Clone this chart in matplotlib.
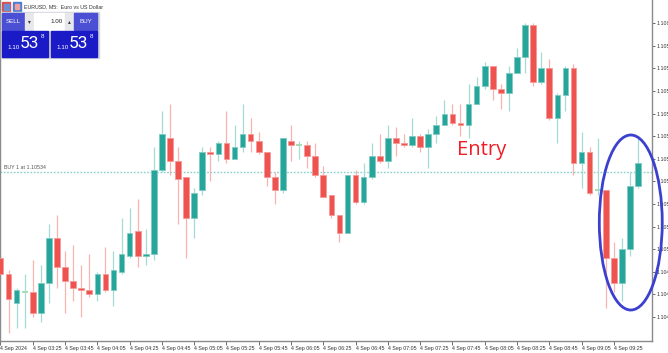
import matplotlib
matplotlib.use("Agg")
import matplotlib.pyplot as plt
from matplotlib.patches import Ellipse, Rectangle
import numpy as np

# EURUSD M5 candles
opens = [1.10496, 1.10489, 1.10476, 1.10481, 1.10481, 1.10472, 1.10485, 1.10505, 1.10492, 1.10486,
         1.10483, 1.10482, 1.10480, 1.10489, 1.10482, 1.10490, 1.10497, 1.10508, 1.10497, 1.10498,
         1.10535, 1.10549, 1.10539, 1.10532, 1.10514, 1.10526, 1.10543, 1.10542, 1.10547, 1.10540,
         1.10545, 1.10551, 1.10548, 1.10543, 1.10532, 1.10526, 1.10548, 1.10546, 1.10546, 1.10541,
         1.10533, 1.10524, 1.10515, 1.10507, 1.10533, 1.10521, 1.10532, 1.10541, 1.10539, 1.10549,
         1.10547, 1.10546, 1.10550, 1.10545, 1.10551, 1.10555, 1.10560, 1.10556, 1.10555, 1.10564,
         1.10572, 1.10581, 1.10571, 1.10569, 1.10578, 1.10585, 1.10599, 1.10574, 1.10580, 1.10558,
         1.10568, 1.10580, 1.10538, 1.10543, 1.10526, 1.10526, 1.10496, 1.10485, 1.10500, 1.10528]
highs = [1.10497, 1.10491, 1.10483, 1.10489, 1.10495, 1.10493, 1.10511, 1.10515, 1.10499, 1.10502,
         1.10493, 1.10498, 1.10490, 1.10501, 1.10499, 1.10514, 1.10518, 1.10522, 1.10509, 1.10545,
         1.10561, 1.10564, 1.10545, 1.10532, 1.10527, 1.10545, 1.10545, 1.10548, 1.10561, 1.10555,
         1.10564, 1.10558, 1.10552, 1.10543, 1.10534, 1.10549, 1.10555, 1.10548, 1.10548, 1.10547,
         1.10537, 1.10524, 1.10515, 1.10533, 1.10535, 1.10538, 1.10547, 1.10551, 1.10555, 1.10554,
         1.10551, 1.10558, 1.10551, 1.10553, 1.10559, 1.10566, 1.10564, 1.10564, 1.10573, 1.10576,
         1.10583, 1.10581, 1.10573, 1.10581, 1.10589, 1.10600, 1.10600, 1.10587, 1.10584, 1.10569,
         1.10581, 1.10582, 1.10552, 1.10545, 1.10549, 1.10526, 1.10503, 1.10505, 1.10534, 1.10549]
lows = [1.10487, 1.10463, 1.10465, 1.10465, 1.10470, 1.10468, 1.10476, 1.10483, 1.10472, 1.10477,
        1.10470, 1.10479, 1.10477, 1.10481, 1.10475, 1.10489, 1.10496, 1.10492, 1.10493, 1.10495,
        1.10534, 1.10533, 1.10511, 1.10496, 1.10505, 1.10524, 1.10530, 1.10539, 1.10538, 1.10540,
        1.10543, 1.10543, 1.10542, 1.10528, 1.10520, 1.10525, 1.10539, 1.10540, 1.10536, 1.10532,
        1.10523, 1.10514, 1.10503, 1.10507, 1.10520, 1.10520, 1.10531, 1.10538, 1.10536, 1.10541,
        1.10545, 1.10545, 1.10543, 1.10536, 1.10547, 1.10555, 1.10555, 1.10550, 1.10549, 1.10564,
        1.10571, 1.10566, 1.10562, 1.10561, 1.10578, 1.10578, 1.10572, 1.10573, 1.10557, 1.10547,
        1.10561, 1.10533, 1.10527, 1.10524, 1.10524, 1.10474, 1.10481, 1.10477, 1.10497, 1.10527]
closes = [1.10489, 1.10478, 1.10482, 1.10481, 1.10472, 1.10485, 1.10505, 1.10492, 1.10486, 1.10483,
          1.10482, 1.10480, 1.10489, 1.10482, 1.10491, 1.10498, 1.10507, 1.10497, 1.10498, 1.10535,
          1.10551, 1.10539, 1.10531, 1.10514, 1.10525, 1.10543, 1.10542, 1.10547, 1.10540, 1.10545,
          1.10551, 1.10548, 1.10543, 1.10532, 1.10526, 1.10549, 1.10546, 1.10546, 1.10541, 1.10533,
          1.10523, 1.10515, 1.10507, 1.10533, 1.10521, 1.10532, 1.10541, 1.10539, 1.10549, 1.10547,
          1.10546, 1.10550, 1.10545, 1.10551, 1.10555, 1.10560, 1.10556, 1.10555, 1.10564, 1.10572,
          1.10581, 1.10571, 1.10569, 1.10578, 1.10585, 1.10599, 1.10574, 1.10580, 1.10558, 1.10568,
          1.10580, 1.10538, 1.10543, 1.10525, 1.10526, 1.10496, 1.10485, 1.10500, 1.10528, 1.10538]

time_labels = ["4 Sep 2024", "4 Sep 03:25", "4 Sep 03:45", "4 Sep 04:05", "4 Sep 04:25",
               "4 Sep 04:45", "4 Sep 05:05", "4 Sep 05:25", "4 Sep 05:45", "4 Sep 06:05",
               "4 Sep 06:25", "4 Sep 06:45", "4 Sep 07:05", "4 Sep 07:25", "4 Sep 07:45",
               "4 Sep 08:05", "4 Sep 08:25", "4 Sep 08:45", "4 Sep 09:05", "4 Sep 09:25"]
price_ticks = [1.1047, 1.1048, 1.1049, 1.1050, 1.1051, 1.1052, 1.1053,
               1.1054, 1.1055, 1.1056, 1.1057, 1.1058, 1.1059, 1.1060]
entry_price = 1.10534

BULL = "#26a69a"
BEAR = "#ef5350"
BULL_WICK = "#a3dbd5"
BEAR_WICK = "#f8b3b1"
DOJI = "#a9dcb3"
small = "Liberation Sans"

o = np.array(opens)
h = np.array(highs)
l = np.array(lows)
c = np.array(closes)
x = np.arange(len(o))

W, H = 668, 353
fig = plt.figure(figsize=(W / 100, H / 100), dpi=100)
ax = fig.add_axes([0, 12 / H, 652 / W, 341 / H])

up = c > o
down = c < o
flat = c == o

# wicks
ax.vlines(x[up], l[up], h[up], color=BULL_WICK, lw=0.9, zorder=2)
ax.vlines(x[down], l[down], h[down], color=BEAR_WICK, lw=0.9, zorder=2)
ax.vlines(x[flat], l[flat], h[flat], color=BULL_WICK, lw=0.9, zorder=2)

# bodies
ax.bar(x[up], (c - o)[up], bottom=o[up], width=0.7, color=BULL,
       edgecolor="#7fcbc3", lw=0.6, zorder=3)
ax.bar(x[down], (o - c)[down], bottom=c[down], width=0.7, color=BEAR,
       edgecolor="#f59a98", lw=0.6, zorder=3)
ax.hlines(o[flat], x[flat] - 0.35, x[flat] + 0.35, color=DOJI, lw=1.4, zorder=3)

# open position line
ax.axhline(entry_price, color="#86d0c7", lw=1.0, ls=(0, (1.2, 1.2)), zorder=1)
ax.text(0.4, entry_price + 0.000012, "BUY 1 at %.5f" % entry_price, fontsize=3.8,
        color="#555555", family=small, va="bottom", ha="left")

ax.text(56.6, 1.10544, "Entry", fontsize=14.5, color="#ee1c25", family="Open Sans",
        va="center", ha="left")

ax.add_patch(Ellipse((78.1, 1.105118), 7.8, 0.000774, fill=False,
                     edgecolor="#3b40cf", lw=2.0, zorder=5, clip_on=False))

ax.set_xlim(-0.06, 80.73)
ax.set_ylim(1.104594, 1.106102)

# axes styling, MT5 look
ax.spines["top"].set_visible(False)
for side in ["left", "bottom", "right"]:
    ax.spines[side].set_color("#8a8a8a")
    ax.spines[side].set_linewidth(1.0)

ax.yaxis.tick_right()
ax.set_yticks(price_ticks)
ax.set_yticklabels(["%.5f" % p for p in price_ticks])
ax.tick_params(axis="y", direction="out", length=2.5, width=0.6, color="#555555",
               labelsize=3.8, labelcolor="#333333", pad=1)
for t in ax.get_yticklabels():
    t.set_family(small)

ax.set_xticks(np.arange(0, len(time_labels) * 4, 4))
ax.set_xticklabels(time_labels)
ax.tick_params(axis="x", direction="out", length=3, width=0.6, color="#555555",
               labelsize=3.8, labelcolor="#333333", pad=0.8)
for t in ax.get_xticklabels():
    t.set_family(small)
    t.set_ha("left")

# trading panel in the top left corner
ov = fig.add_axes([0, 0, 1, 1], zorder=10)
ov.set_xlim(0, W)
ov.set_ylim(H, 0)
ov.axis("off")
ov.patch.set_alpha(0)

ov.add_patch(Rectangle((2, 2), 8, 9, color="#d9534f"))
ov.add_patch(Rectangle((3.5, 3.5), 5, 6, color="#6b8fd6"))
ov.add_patch(Rectangle((13, 2), 8, 9, color="#4a7fd4"))
ov.add_patch(Rectangle((15, 4), 4, 5, color="#f0a0a0"))
ov.text(24, 6.5, "EURUSD, M5:  Euro vs US Dollar", fontsize=3.8, color="#333333",
        family=small, va="center", ha="left")

ov.add_patch(Rectangle((1, 12), 98, 46, color="#d4d6de"))
ov.add_patch(Rectangle((2, 13), 22, 17, color="#4b4fd3"))
ov.text(13, 21.5, "SELL", fontsize=4.5, color="white", family=small, ha="center", va="center")
ov.add_patch(Rectangle((25, 13), 9, 17, color="#e8e8ec"))
ov.text(29.5, 21.5, "\u25be", fontsize=4, color="#333333", ha="center", va="center")
ov.add_patch(Rectangle((34, 13), 31, 17, color="white"))
ov.text(63, 21.5, "1.00", fontsize=4.5, color="#222222", family=small, ha="right", va="center")
ov.add_patch(Rectangle((65, 13), 9, 17, color="#e8e8ec"))
ov.text(69.5, 21.5, "\u25b4", fontsize=4, color="#333333", ha="center", va="center")
ov.add_patch(Rectangle((74, 13), 23, 17, color="#4b4fd3"))
ov.text(85.5, 21.5, "BUY", fontsize=4.5, color="white", family=small, ha="center", va="center")

for bx in [2, 51]:
    ov.add_patch(Rectangle((bx, 31), 46, 26, color="#1a1ac6"))
    ov.text(bx + 5, 47.5, "1.10", fontsize=4.5, color="white", family=small,
            ha="left", va="center")
    ov.text(bx + 17.5, 44, "53", fontsize=12.5, color="white", family="Roboto",
            ha="left", va="center")
    ov.text(bx + 38.5, 37, "8", fontsize=4.5, color="white", family=small,
            ha="left", va="center")

fig.savefig("out.png", dpi=100)
